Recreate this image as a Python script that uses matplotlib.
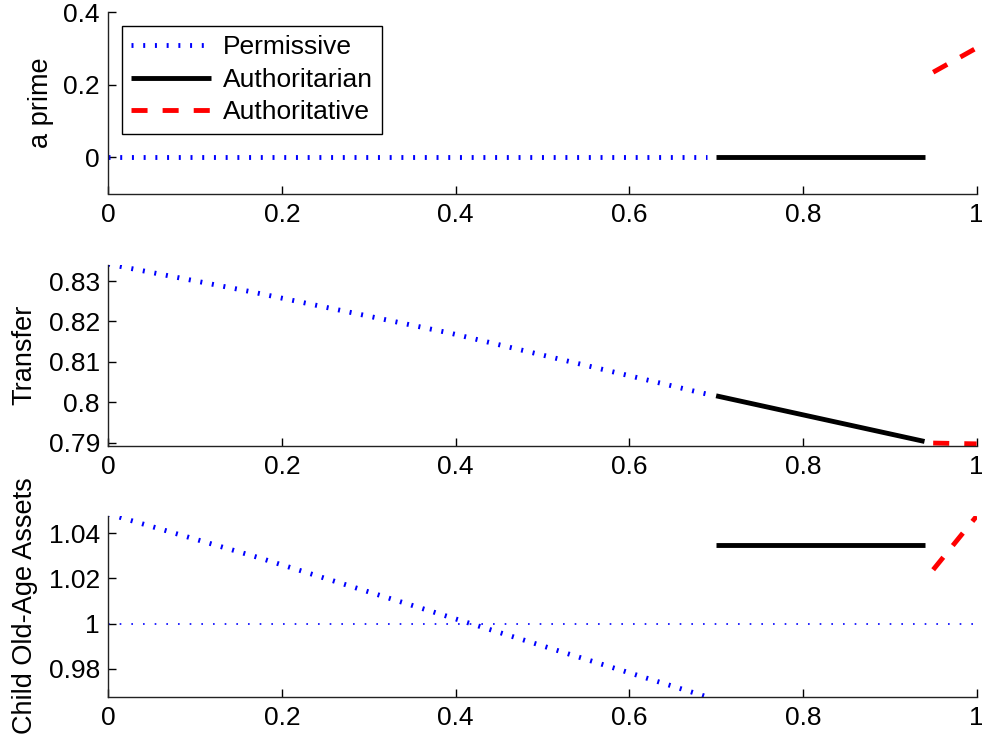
import matplotlib
matplotlib.use("Agg")
import matplotlib.pyplot as plt
from matplotlib.ticker import FuncFormatter

plt.rcParams['font.family'] = ['Liberation Sans', 'DejaVu Sans']

# ---------------- data ----------------
labels = ["Permissive", "Authoritarian", "Authoritative"]
ylabels = ["a prime", "Transfer", "Child Old-Age Assets"]

# a prime
perm_x_a = [0.0, 0.69]
perm_a = [0.0, 0.0]
auth_x_a = [0.70, 0.94]
auth_a = [0.0, 0.0]
autv_x_a = [0.95, 1.0]
autv_a = [0.235, 0.302]

# transfer
perm_x_t = [0.0, 0.1634, 0.394, 0.6757, 0.69]
perm_t = [0.8342, 0.8274, 0.8171, 0.8027, 0.8020]
auth_x_t = [0.70, 0.94]
auth_t = [0.8016, 0.7903]
autv_x_t = [0.95, 1.0]
autv_t = [0.7899, 0.7897]

# child old-age assets
perm_x_c = [0.0, 0.1728, 0.417, 0.6227, 0.69]
perm_c = [1.0485, 1.0292, 1.0, 0.9755, 0.9675]
auth_x_c = [0.70, 0.94]
auth_c = [1.0348, 1.0348]
autv_x_c = [0.95, 1.0]
autv_c = [1.0238, 1.0475]
ref_x = [0.0, 1.0]
ref_c = [1.0, 1.0]

xticks = [0, 0.2, 0.4, 0.6, 0.8, 1.0]
yticks_a = [0, 0.2, 0.4]
yticks_t = [0.79, 0.80, 0.81, 0.82, 0.83]
yticks_c = [0.98, 1.0, 1.02, 1.04]
ylim_a = (-0.1, 0.4)
ylim_t = (0.7893, 0.8341)
ylim_c = (0.9677, 1.0478)

# ---------------- styling ----------------
W, H = 982, 740
fig = plt.figure(figsize=(W / 100, H / 100), dpi=100)

left = 108.3 / W
width = 868.3 / W
axh = 181.0 / H
tops = [12.5, 264.5, 515.5]

fmt = FuncFormatter(lambda v, p: f"{round(v, 6):g}")
LW = 3.5
blue_ls = (0, (0.41, 2.0))
red_ls = (0, (3.3, 3.1))
FS = 19
LFS = 19.5

datasets = [
    (perm_x_a, perm_a, auth_x_a, auth_a, autv_x_a, autv_a, yticks_a, ylim_a),
    (perm_x_t, perm_t, auth_x_t, auth_t, autv_x_t, autv_t, yticks_t, ylim_t),
    (perm_x_c, perm_c, auth_x_c, auth_c, autv_x_c, autv_c, yticks_c, ylim_c),
]
label_x = [-0.078, -0.0962, -0.0957]

axes = []
for i, (px, py, ax_, ay, vx, vy, yt, yl) in enumerate(datasets):
    top = tops[i]
    ax = fig.add_axes([left, 1 - (top + 181.0) / H, width, axh])
    l1, = ax.plot(px, py, color=(0, 0, 1), lw=LW, linestyle=blue_ls,
                  dash_capstyle='butt', label=labels[0])
    l2, = ax.plot(ax_, ay, color='black', lw=LW, solid_capstyle='butt',
                  label=labels[1])
    l3, = ax.plot(vx, vy, color=(1, 0, 0), lw=LW, linestyle=red_ls,
                  dash_capstyle='butt', label=labels[2])
    if i == 2:
        ax.plot(ref_x, ref_c, color=(0, 0, 1), lw=1.2, linestyle=(0, (1, 6)),
                dash_capstyle='butt')
    ax.set_xlim(0, 1)
    ax.set_ylim(*yl)
    ax.set_xticks(xticks)
    ax.set_yticks(yt)
    ax.xaxis.set_major_formatter(fmt)
    ax.yaxis.set_major_formatter(fmt)
    for s in ['top', 'right']:
        ax.spines[s].set_visible(False)
    for s in ['left', 'bottom']:
        ax.spines[s].set_linewidth(1.0)
        ax.spines[s].set_color('#222222')
    ax.tick_params(axis='both', direction='in', length=5.8, width=1.0,
                   colors='black', labelsize=FS)
    ax.tick_params(axis='x', pad=6.5)
    ax.tick_params(axis='y', pad=6.0)
    ax.set_ylabel(ylabels[i], fontsize=LFS)
    ax.yaxis.label.set_va('center')
    ax.yaxis.set_label_coords(label_x[i], 0.5)
    axes.append((ax, [l1, l2, l3]))

ax0, handles = axes[0]
leg = ax0.legend(handles, labels, loc='upper left',
                 bbox_to_anchor=(13.4 / 868.3, 1 - 13.2 / 181.0),
                 borderaxespad=0, fontsize=FS, handlelength=3.0,
                 handletextpad=0.45, labelspacing=0.32, borderpad=0.37,
                 fancybox=False, framealpha=1, edgecolor='black')
leg.get_frame().set_linewidth(1.0)

fig.savefig("out.png", dpi=100)
